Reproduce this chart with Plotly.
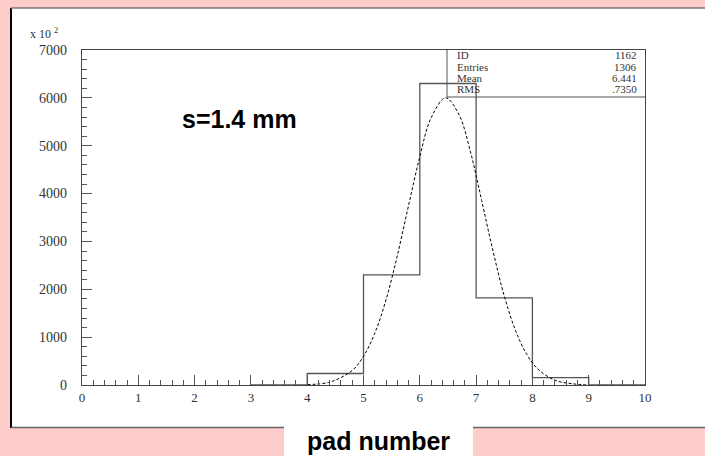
import plotly.graph_objects as go

# Histogram 1162: pad occupancy (counts in units of 10^2)
bin_edges = [3, 4, 5, 6, 7, 8, 9, 10]
bin_counts = [0, 240, 2300, 6300, 1820, 155, 0]

# Gaussian fit curve sampled along the pad axis
fit_x = [4.0, 4.4, 4.8, 5.0, 5.2, 5.4, 5.6, 5.8, 6.0, 6.2, 6.46, 6.7, 6.9,
         7.0, 7.1, 7.3, 7.5, 7.7, 7.9, 8.1, 8.4, 8.7, 9.0]
fit_y = [10, 60, 305, 600, 1080, 1780, 2700, 3750, 4770, 5580, 6000, 5640,
         4870, 4380, 3850, 2800, 1860, 1140, 640, 330, 100, 27, 0]

# Statistics box
stat_names = ["ID", "Entries", "Mean", "RMS"]
stat_values = ["1162", "1306", "6.441", ".7350"]

x_ticks = list(range(0, 11))
y_ticks = [0, 1000, 2000, 3000, 4000, 5000, 6000, 7000]

W, H = 705, 456
L, R, T, B = 82, 645, 50, 385  # plot frame in pixels


def px(x):
    return (x - L) / (R - L)


def py(y):
    return (B - y) / (B - T)


serif = "Liberation Serif"
sans = "Liberation Sans"
ink = "#333333"

step_x = bin_edges
step_y = bin_counts + [bin_counts[-1]]

fig = go.Figure()
fig.add_trace(go.Scatter(
    x=step_x, y=step_y, mode="lines", line_shape="hv",
    line=dict(color="#555555", width=1.3), hoverinfo="skip", showlegend=False))
fig.add_trace(go.Scatter(
    x=fit_x, y=fit_y, mode="lines", line_shape="spline",
    line=dict(color="black", width=1, dash="3px,2px"),
    hoverinfo="skip", showlegend=False))

shapes = [
    # white canvas panel
    dict(type="rect", xref="paper", yref="paper", layer="below",
         x0=px(11), x1=px(706), y0=py(427), y1=py(8),
         fillcolor="white", line=dict(width=0)),
    # white label box under the axis
    dict(type="rect", xref="paper", yref="paper", layer="below",
         x0=px(284), x1=px(473), y0=py(457), y1=py(427),
         fillcolor="white", line=dict(width=0)),
    # canvas borders
    dict(type="line", xref="paper", yref="paper", x0=px(11), x1=px(11),
         y0=py(428), y1=py(8), line=dict(color="black", width=2)),
    dict(type="line", xref="paper", yref="paper", x0=px(11), x1=px(706),
         y0=py(8), y1=py(8), line=dict(color="#777777", width=1.5)),
    dict(type="line", xref="paper", yref="paper", x0=px(11), x1=px(284),
         y0=py(427.5), y1=py(427.5), line=dict(color="#666666", width=1.5)),
    dict(type="line", xref="paper", yref="paper", x0=px(473), x1=px(706),
         y0=py(427.5), y1=py(427.5), line=dict(color="#666666", width=1.5)),
    # statistics box
    dict(type="line", xref="paper", yref="paper", x0=px(447), x1=px(447),
         y0=py(97), y1=py(50), line=dict(color="#555555", width=1)),
    dict(type="line", xref="paper", yref="paper", x0=px(447), x1=px(645),
         y0=py(97), y1=py(97), line=dict(color="#555555", width=1)),
]

annotations = [
    dict(text="x 10 <sup>2</sup>", xref="paper", yref="paper",
         x=px(28), y=py(34), xanchor="left", yanchor="middle",
         showarrow=False, font=dict(family=serif, size=12, color=ink)),
    dict(text="<b>s=1.4 mm</b>", xref="paper", yref="paper",
         x=px(239), y=py(119), xanchor="center", yanchor="middle",
         showarrow=False, font=dict(family=sans, size=25, color="black")),
    dict(text="<b>pad number</b>", xref="paper", yref="paper",
         x=px(378), y=py(441), xanchor="center", yanchor="middle",
         showarrow=False, font=dict(family=sans, size=25, color="black")),
]
row_y = [55, 66.5, 77.5, 88.5]
for name, val, yy in zip(stat_names, stat_values, row_y):
    annotations.append(dict(text=name, xref="paper", yref="paper",
                            x=px(455), y=py(yy), xanchor="left", yanchor="middle",
                            showarrow=False,
                            font=dict(family=serif, size=11, color=ink)))
    annotations.append(dict(text=val, xref="paper", yref="paper",
                            x=px(639), y=py(yy), xanchor="right", yanchor="middle",
                            showarrow=False,
                            font=dict(family=serif, size=11, color=ink)))

axis_common = dict(
    showgrid=False, zeroline=False, showline=True, mirror=True,
    linecolor="#444444", linewidth=1.2,
    ticks="inside", ticklen=10, tickwidth=1, tickcolor="#555555",
)

fig.update_layout(
    width=W, height=H,
    margin=dict(l=L, r=W - R, t=T, b=H - B, pad=0),
    paper_bgcolor="#FFCCCC", plot_bgcolor="white",
    xaxis=dict(range=[0, 10], tickvals=x_ticks, ticktext=[str(v) for v in x_ticks],
               tickfont=dict(family=serif, size=13, color=ink),
               minor=dict(ticks="inside", dtick=0.2, ticklen=5,
                          tickcolor="#555555", tickwidth=1),
               **axis_common),
    yaxis=dict(range=[0, 7000], tickvals=y_ticks, ticktext=[str(v) for v in y_ticks],
               tickfont=dict(family=serif, size=14, color=ink),
               ticklabelstandoff=11,
               minor=dict(ticks="inside", dtick=200, ticklen=5,
                          tickcolor="#555555", tickwidth=1),
               **axis_common),
    shapes=shapes, annotations=annotations, showlegend=False,
)

fig.write_html("out.html")
